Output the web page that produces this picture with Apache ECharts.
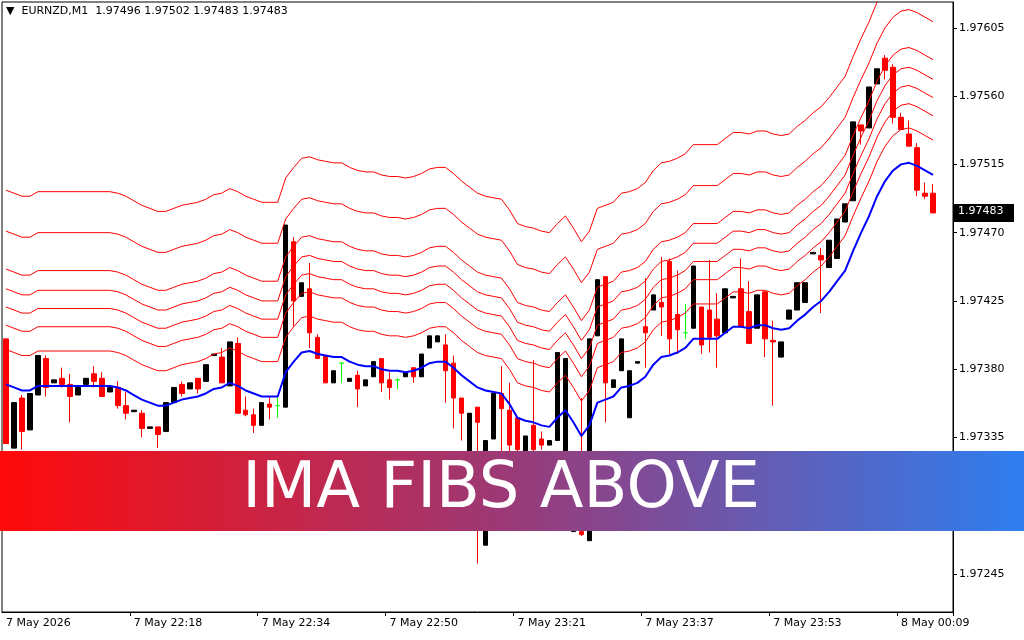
<!DOCTYPE html>
<html>
<head>
<meta charset="utf-8">
<script src="https://cdn.jsdelivr.net/npm/echarts@6/dist/echarts.min.js"></script>
<style>
html,body{margin:0;padding:0;background:#fff;}
#chart{width:1024px;height:640px;}
</style>
</head>
<body>
<div id="chart"></div>
<script>
// candles, oldest first
var opens = [1.97400,1.97328,1.97361,1.97340,1.97363,1.97387,1.97371,1.97374,1.97370,1.97363,
1.97370,1.97377,1.97374,1.97365,1.97368,1.97356,1.97352,1.97351,1.97341,1.97342,
1.97339,1.97358,1.97370,1.97367,1.97374,1.97372,1.97389,1.97388,1.97369,1.97397,
1.97353,1.97350,1.97343,1.97357,1.97356,1.97355,1.97464,1.97428,1.97433,1.97401,
1.97389,1.97371,1.97384,1.97372,1.97376,1.97369,1.97375,1.97387,1.97373,1.97373,
1.97375,1.97381,1.97375,1.97394,1.97398,1.97396,1.97384,1.97361,1.97323,1.97355,
1.97264,1.97334,1.97364,1.97353,1.97348,1.97323,1.97343,1.97334,1.97330,1.97333,
1.97290,1.97273,1.97273,1.97267,1.97402,1.97441,1.97368,1.97379,1.97348,1.97384,
1.97408,1.97419,1.97424,1.97451,1.97416,1.97404,1.97407,1.97421,1.97419,1.97413,
1.97404,1.97427,1.97433,1.97418,1.97407,1.97431,1.97399,1.97388,1.97413,1.97419,
1.97424,1.97456,1.97455,1.97447,1.97453,1.97477,1.97491,1.97541,1.97539,1.97568,
1.97585,1.97579,1.97546,1.97535,1.97526,1.97496,1.97496];
var highs = [1.97400,1.97358,1.97363,1.97364,1.97389,1.97389,1.97373,1.97381,1.97377,1.97368,
1.97374,1.97382,1.97378,1.97368,1.97372,1.97365,1.97353,1.97353,1.97342,1.97342,
1.97358,1.97368,1.97372,1.97371,1.97374,1.97383,1.97390,1.97394,1.97398,1.97401,
1.97362,1.97354,1.97358,1.97362,1.97362,1.97475,1.97467,1.97437,1.97450,1.97403,
1.97389,1.97379,1.97384,1.97374,1.97379,1.97373,1.97385,1.97387,1.97378,1.97374,
1.97378,1.97381,1.97390,1.97402,1.97402,1.97403,1.97389,1.97361,1.97351,1.97355,
1.97333,1.97364,1.97382,1.97371,1.97348,1.97336,1.97386,1.97339,1.97333,1.97391,
1.97387,1.97300,1.97361,1.97400,1.97439,1.97441,1.97373,1.97400,1.97379,1.97385,
1.97440,1.97429,1.97454,1.97453,1.97445,1.97423,1.97448,1.97421,1.97452,1.97430,
1.97433,1.97428,1.97453,1.97438,1.97429,1.97431,1.97412,1.97398,1.97419,1.97437,
1.97437,1.97457,1.97460,1.97465,1.97479,1.97489,1.97543,1.97541,1.97566,1.97578,
1.97587,1.97581,1.97549,1.97544,1.97529,1.97503,1.97502];
var lows = [1.97331,1.97328,1.97327,1.97340,1.97363,1.97362,1.97371,1.97368,1.97345,1.97363,
1.97370,1.97368,1.97362,1.97365,1.97354,1.97347,1.97352,1.97335,1.97341,1.97328,
1.97339,1.97358,1.97362,1.97367,1.97364,1.97372,1.97389,1.97371,1.97369,1.97351,
1.97349,1.97338,1.97343,1.97347,1.97348,1.97355,1.97408,1.97428,1.97394,1.97387,
1.97371,1.97371,1.97371,1.97372,1.97355,1.97369,1.97375,1.97365,1.97360,1.97367,
1.97375,1.97371,1.97375,1.97394,1.97398,1.97358,1.97341,1.97333,1.97323,1.97252,
1.97264,1.97334,1.97290,1.97320,1.97315,1.97323,1.97320,1.97327,1.97330,1.97333,
1.97290,1.97273,1.97270,1.97267,1.97402,1.97345,1.97368,1.97379,1.97348,1.97384,
1.97381,1.97419,1.97402,1.97390,1.97390,1.97400,1.97407,1.97390,1.97391,1.97381,
1.97404,1.97427,1.97408,1.97397,1.97407,1.97388,1.97356,1.97388,1.97413,1.97419,
1.97424,1.97456,1.97417,1.97447,1.97453,1.97477,1.97491,1.97528,1.97539,1.97568,
1.97571,1.97542,1.97538,1.97527,1.97494,1.97492,1.97483];
var closes = [1.97331,1.97358,1.97339,1.97364,1.97389,1.97368,1.97373,1.97370,1.97362,1.97368,
1.97374,1.97372,1.97362,1.97368,1.97356,1.97351,1.97353,1.97341,1.97342,1.97337,
1.97358,1.97368,1.97364,1.97371,1.97367,1.97383,1.97390,1.97371,1.97398,1.97351,
1.97350,1.97343,1.97358,1.97355,1.97356,1.97475,1.97425,1.97437,1.97404,1.97387,
1.97371,1.97379,1.97384,1.97374,1.97367,1.97373,1.97385,1.97371,1.97368,1.97373,
1.97378,1.97375,1.97390,1.97402,1.97402,1.97379,1.97361,1.97351,1.97351,1.97345,
1.97333,1.97364,1.97354,1.97330,1.97327,1.97336,1.97327,1.97330,1.97333,1.97391,
1.97387,1.97300,1.97271,1.97400,1.97439,1.97371,1.97373,1.97400,1.97379,1.97385,
1.97404,1.97429,1.97421,1.97400,1.97406,1.97404,1.97448,1.97396,1.97401,1.97402,
1.97433,1.97428,1.97408,1.97397,1.97429,1.97400,1.97398,1.97398,1.97419,1.97437,
1.97437,1.97457,1.97452,1.97465,1.97479,1.97489,1.97543,1.97537,1.97566,1.97578,
1.97577,1.97546,1.97538,1.97527,1.97498,1.97494,1.97483];

// blue moving average
var maValues = [1.97370,1.97368,1.97366,1.97366,1.97369,1.97369,1.97369,1.97369,1.97369,1.97369,
1.97369,1.97369,1.97369,1.97369,1.97368,1.97366,1.97363,1.97360,1.97358,1.97356,
1.97356,1.97358,1.97360,1.97361,1.97362,1.97364,1.97367,1.97368,1.97371,1.97369,
1.97366,1.97364,1.97362,1.97362,1.97362,1.97378,1.97385,1.97391,1.97392,1.97390,
1.97389,1.97388,1.97388,1.97385,1.97383,1.97382,1.97382,1.97380,1.97379,1.97379,
1.97378,1.97379,1.97381,1.97384,1.97385,1.97385,1.97381,1.97376,1.97372,1.97368,
1.97366,1.97365,1.97364,1.97357,1.97348,1.97346,1.97345,1.97343,1.97342,1.97348,
1.97353,1.97345,1.97336,1.97343,1.97358,1.97360,1.97362,1.97368,1.97369,1.97371,
1.97375,1.97383,1.97388,1.97389,1.97391,1.97394,1.97400,1.97400,1.97400,1.97400,
1.97404,1.97408,1.97408,1.97407,1.97409,1.97409,1.97407,1.97406,1.97407,1.97412,
1.97416,1.97421,1.97425,1.97431,1.97438,1.97445,1.97458,1.97470,1.97481,1.97494,
1.97504,1.97511,1.97515,1.97516,1.97514,1.97511,1.97508];

// distance of each red line above the average
var fibOffsets = [0.00023,0.00039,0.00051,0.00063,0.00076,0.00101,0.00128];

var priceTicks = [1.97245,1.97290,1.97335,1.97380,1.97425,1.97470,1.97515,1.97560,1.97605];
var timeLabels = ['7 May 2026','7 May 22:18','7 May 22:34','7 May 22:50','7 May 23:21','7 May 23:37','7 May 23:53','8 May 00:09'];
var lastPrice = 1.97483;

var totalSlots = 119;
var cats = [];
for (var i = 0; i < totalSlots; i++) {
    cats.push(i % 16 === 0 ? (timeLabels[i / 16] || '') : '');
}

var candles = [];
for (var i = 0; i < opens.length; i++) {
    candles.push([opens[i], closes[i], lows[i], highs[i]]);
}

var series = [{
    type: 'candlestick',
    data: candles,
    barWidth: 5,
    itemStyle: {
        color: '#000000', color0: '#ff0000',
        borderColor: '#000000', borderColor0: '#ff0000',
        borderColorDoji: '#00ff00', borderWidth: 1
    },
    silent: true
}, {
    type: 'line',
    data: maValues,
    showSymbol: false,
    lineStyle: {color: '#0000ff', width: 2},
    silent: true,
    z: 3
}];

fibOffsets.forEach(function (off) {
    series.push({
        type: 'line',
        data: maValues.map(function (v) { return +(v + off).toFixed(5); }),
        showSymbol: false,
        lineStyle: {color: '#ff0000', width: 1},
        silent: true
    });
});

var chart = echarts.init(document.getElementById('chart'));
chart.setOption({
    animation: false,
    backgroundColor: '#ffffff',
    textStyle: {fontFamily: 'DejaVu Sans'},
    grid: {left: 2, right: 71, top: 2, bottom: 28, show: true, borderColor: '#000', borderWidth: 1},
    xAxis: {
        type: 'category',
        data: cats,
        boundaryGap: true,
        axisLine: {lineStyle: {color: '#000'}},
        axisTick: {show: true, interval: function (i) { return i % 16 === 0 && i > 0; }, lineStyle: {color: '#000'}, length: 4},
        axisLabel: {interval: 0, color: '#000', fontSize: 11, align: 'left', margin: 6,
            formatter: function (v) { return v; }},
        splitLine: {show: false}
    },
    yAxis: {
        type: 'value',
        position: 'right',
        min: 1.97220,
        max: 1.97622,
        scale: true,
        axisLine: {show: true, lineStyle: {color: '#000'}},
        axisTick: {show: true, length: 4, customValues: priceTicks, lineStyle: {color: '#000'}},
        axisLabel: {color: '#000', fontSize: 11, margin: 6, customValues: priceTicks,
            formatter: function (v) { return v.toFixed(5); }},
        splitLine: {show: false}
    },
    series: series
});

var tagY = chart.convertToPixel({yAxisIndex: 0}, lastPrice);
chart.setOption({
    graphic: [{
        type: 'text', left: 6, top: 6,
        style: {text: '\u25BC  EURNZD,M1  1.97496 1.97502 1.97483 1.97483', fill: '#000', font: '11px "DejaVu Sans"'}
    }, {
        type: 'rect', shape: {x: 954, y: tagY - 9, width: 60, height: 18},
        style: {fill: '#000'}
    }, {
        type: 'text', x: 958, y: tagY - 7,
        style: {text: lastPrice.toFixed(5), fill: '#fff', font: '11px "DejaVu Sans"'}
    }, {
        type: 'rect', shape: {x: 0, y: 451, width: 1024, height: 80},
        style: {fill: new echarts.graphic.LinearGradient(0, 0, 1, 0, [
            {offset: 0, color: '#ff0a0a'},
            {offset: 0.5, color: '#9a3a78'},
            {offset: 1, color: '#2e7ef0'}
        ])},
        z: 100
    }, {
        type: 'text', x: 501, y: 490,
        style: {text: 'IMA FIBS ABOVE', fill: '#fff', font: '64px "DejaVu Sans"', align: 'center', verticalAlign: 'middle'},
        z: 101
    }]
});
</script>
</body>
</html>
